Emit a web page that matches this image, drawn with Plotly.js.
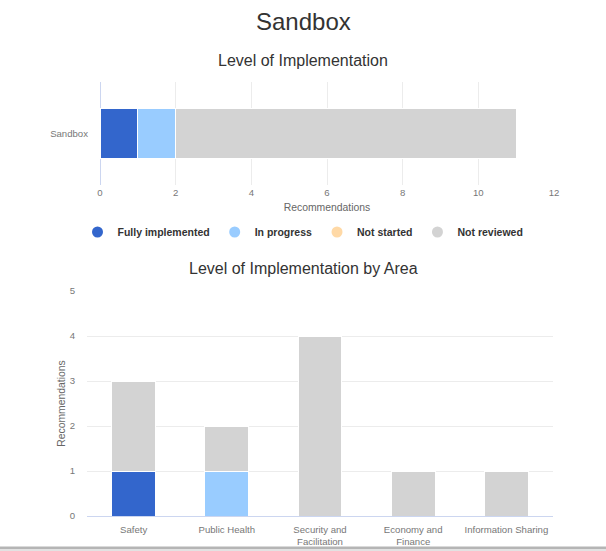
<!DOCTYPE html>
<html>
<head>
<meta charset="utf-8">
<script src="https://cdn.plot.ly/plotly-3.0.1.min.js"></script>
<style>html,body{margin:0;padding:0;background:#fff;}#chart{width:606px;height:551px;}</style>
</head>
<body>
<div id="chart"></div>
<script>
const statuses = ["Fully implemented", "In progress", "Not started", "Not reviewed"];
const colors = ["#3366cc", "#99ccff", "#ffd9a6", "#d3d3d3"];
const overallCategory = ["Sandbox"];
const overallValues = [1, 1, 0, 9];
const areas = ["Safety", "Public Health", "Security and<br>Facilitation", "Economy and<br>Finance", "Information Sharing"];
const areaFully = [1, 0, 0, 0, 0];
const areaProgress = [0, 1, 0, 0, 0];
const areaNotStarted = [0, 0, 0, 0, 0];
const areaNotReviewed = [2, 1, 4, 1, 1];
const areaSeries = [areaFully, areaProgress, areaNotStarted, areaNotReviewed];

const W = 606, H = 551;
const px = x => x / W;
const py = y => 1 - y / H;
const FAM = "Arial, 'Liberation Sans', sans-serif";

const traces = [];
statuses.forEach((s, i) => {
  traces.push({
    type: "bar", orientation: "h", x: [overallValues[i]], y: overallCategory,
    xaxis: "x", yaxis: "y", width: 0.48,
    marker: {color: colors[i], line: {color: "#ffffff", width: 1}},
    showlegend: false, name: s
  });
});
statuses.forEach((s, i) => {
  traces.push({
    type: "bar", x: areas, y: areaSeries[i], xaxis: "x2", yaxis: "y2",
    marker: {color: colors[i], line: {color: "#ffffff", width: 1}},
    showlegend: false, name: s
  });
});
statuses.forEach((s, i) => {
  traces.push({
    type: "scatter", mode: "markers", x: [null], y: [null], xaxis: "x", yaxis: "y",
    marker: {symbol: "circle", size: 11, color: colors[i]}, name: s, showlegend: true
  });
});

const tickFont = {family: FAM, size: 9.6, color: "#777"};
const layout = {
  width: W, height: H,
  margin: {l: 0, r: 0, t: 0, b: 0},
  paper_bgcolor: "#ffffff", plot_bgcolor: "#ffffff",
  font: {family: FAM, color: "#333"},
  barmode: "stack",
  bargap: 0.53,
  showlegend: true,
  legend: {orientation: "h", x: 0.5, xanchor: "center", y: py(232), yanchor: "middle",
    font: {family: FAM, size: 10.5, color: "#333", weight: "bold"}, itemwidth: 30, tracegroupgap: 0, traceorder: "normal"},
  xaxis: {domain: [px(100), px(554)], range: [0, 12], dtick: 2, tick0: 0, anchor: "y",
    showgrid: true, gridcolor: "#ececec", zeroline: true, zerolinecolor: "#ccd6f0", zerolinewidth: 1,
    showline: false, ticks: "", tickfont: tickFont, fixedrange: true,
    title: {text: "Recommendations", font: {family: FAM, size: 10.4, color: "#666"}, standoff: 7}},
  yaxis: {domain: [py(185), py(82)], anchor: "x", type: "category", range: [-0.5, 0.5],
    showgrid: false, zeroline: false, showline: false, ticks: "", tickfont: tickFont, ticklabelstandoff: 11},
  xaxis2: {domain: [px(87), px(553)], anchor: "y2", type: "category", showgrid: false,
    showline: true, linecolor: "#ccd6f0", linewidth: 1, ticks: "", tickfont: tickFont, ticklabelstandoff: 4},
  yaxis2: {domain: [py(516), py(291)], anchor: "x2", range: [0, 5], dtick: 1, tick0: 0,
    showgrid: true, gridcolor: "#ececec", zeroline: false, showline: false, ticks: "",
    tickfont: tickFont, ticklabelstandoff: 11,
    title: {text: "Recommendations", font: {family: FAM, size: 10.4, color: "#666"}, standoff: 2}},
  annotations: [
    {text: "Sandbox", x: 0.5, y: py(22), xref: "paper", yref: "paper", showarrow: false,
      font: {family: FAM, size: 24, color: "#333"}, xanchor: "center", yanchor: "middle"},
    {text: "Level of Implementation", x: 0.5, y: py(60), xref: "paper", yref: "paper", showarrow: false,
      font: {family: FAM, size: 16, color: "#333"}, xanchor: "center", yanchor: "middle"},
    {text: "Level of Implementation by Area", x: 0.5, y: py(268), xref: "paper", yref: "paper", showarrow: false,
      font: {family: FAM, size: 16, color: "#333"}, xanchor: "center", yanchor: "middle"}
  ],
  shapes: [
    {type: "rect", xref: "paper", yref: "paper", x0: 0, x1: 1, y0: py(549), y1: py(546.5),
      fillcolor: "#b5b5b5", line: {width: 0}, layer: "above"},
    {type: "rect", xref: "paper", yref: "paper", x0: 0, x1: 1, y0: 0, y1: py(549),
      fillcolor: "#e2e2e2", line: {width: 0}, layer: "above"}
  ]
};
Plotly.newPlot("chart", traces, layout, {displayModeBar: false, staticPlot: true});
</script>
</body>
</html>
